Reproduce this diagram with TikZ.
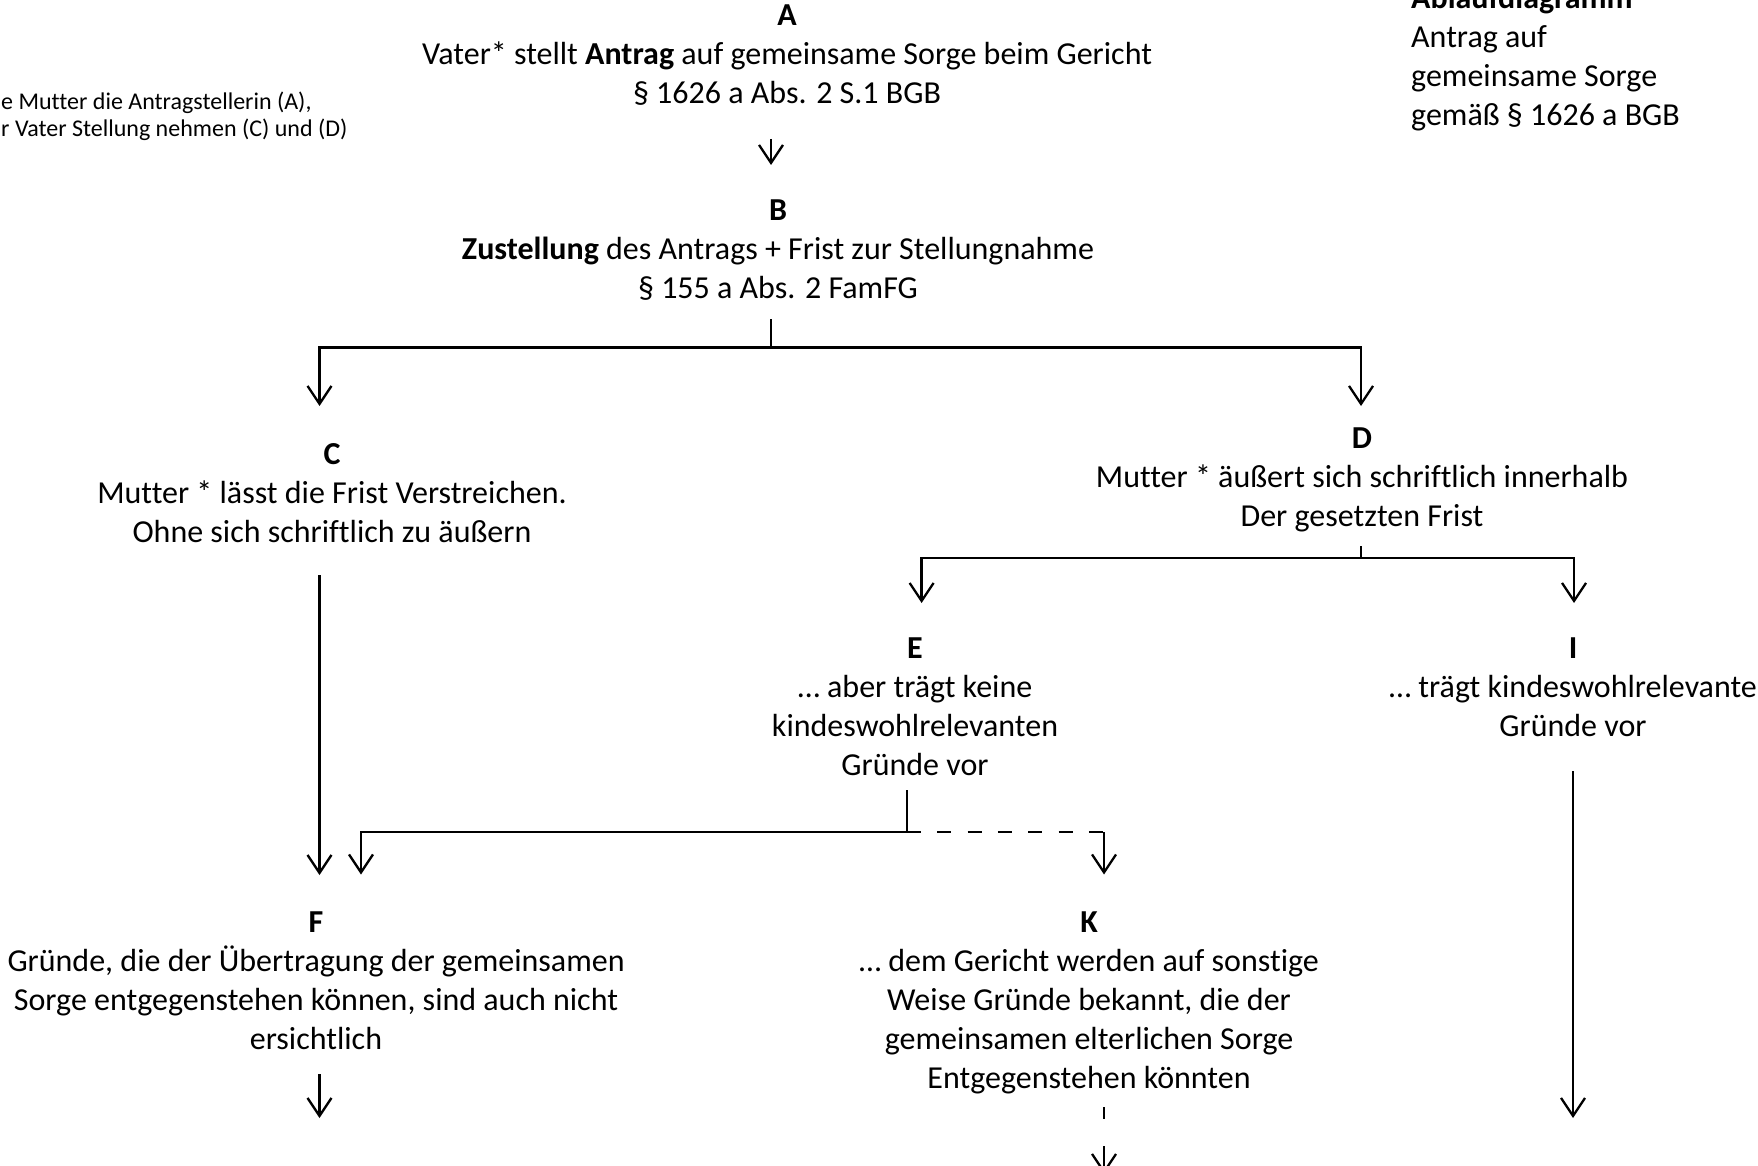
\documentclass[tikz,border=0pt]{standalone}
\usepackage{fontspec}
\setmainfont{Carlito}[Ligatures={TeX,NoCommon}]
\usetikzlibrary{arrows.meta}
\begin{document}
\begin{tikzpicture}[x=1pt,y=-1pt,
  blk/.style={align=center, inner sep=0pt, anchor=north, font=\fontsize{32}{39}\selectfont},
  lft/.style={align=left, inner sep=0pt, anchor=north west, font=\fontsize{32}{39}\selectfont},
  sml/.style={align=left, inner sep=0pt, anchor=north west, font=\fontsize{24}{27}\selectfont},
  conn/.style={line width=2.3pt, line join=miter},
  stem/.style={line width=1.4pt},
  arr/.style={conn, -{Straight Barb[length=18pt,width=24pt,line width=2.3pt]}},
  dsh/.style={conn, dash pattern=on 14pt off 16.3pt},
]
\useasboundingbox (0,0) rectangle (1758,1166);
\fill[white] (0,0) rectangle (1758,1166);

% text blocks
\node[sml] (TL) at (1,90.1) {\strut e Mutter die Antragstellerin (A),\\r Vater Stellung nehmen (C) und (D)};
\node[lft] (TR) at (1411,-19.3) {\strut\textbf{Ablaufdiagramm}\\Antrag auf\\gemeinsame Sorge\\gemäß § 1626 a BGB};

\node[blk] (A) at (787,-2.3) {\strut\textbf{A}\\Vater* stellt \textbf{Antrag} auf gemeinsame Sorge beim Gericht\\§ 1626 a Abs. 2 S.1 BGB};
\node[blk] (B) at (778,192.7) {\strut\textbf{B}\\\textbf{Zustellung} des Antrags + Frist zur Stellungnahme\\§ 155 a Abs. 2 FamFG};
\node[blk] (C) at (332,436.7) {\strut\textbf{C}\\Mutter * lässt die Frist Verstreichen.\\Ohne sich schriftlich zu äußern};
\node[blk] (D) at (1362,421.2) {\strut\textbf{D}\\Mutter * äußert sich schriftlich innerhalb\\Der gesetzten Frist};
\node[blk] (E) at (915,630.7) {\strut\textbf{E}\\… aber trägt keine\\kindeswohlrelevanten\\Gründe vor};
\node[blk] (I) at (1573,630.7) {\strut\textbf{I}\\… trägt kindeswohlrelevante\\Gründe vor};
\node[blk] (F) at (316,904.7) {\strut\textbf{F}\\Gründe, die der Übertragung der gemeinsamen\\Sorge entgegenstehen können, sind auch nicht\\ersichtlich};
\node[blk] (K) at (1089,904.7) {\strut\textbf{K}\\… dem Gericht werden auf sonstige\\Weise Gründe bekannt, die der\\gemeinsamen elterlichen Sorge\\Entgegenstehen könnten};

% connector points
\coordinate (a1) at (771,139);
\coordinate (a2) at (771,165);
\coordinate (b0) at (771,319);
\coordinate (b1) at (771,347.6);
\coordinate (c0) at (319.5,406);
\coordinate (d0) at (1361,406);
\coordinate (c1) at (319.5,575);
\coordinate (c2) at (319.5,875);
\coordinate (d1) at (1361,546);
\coordinate (d2) at (1361,558);
\coordinate (e0) at (921.6,603);
\coordinate (i0) at (1574,603);
\coordinate (e1) at (907,790);
\coordinate (e2) at (907,832);
\coordinate (k0) at (1104,832);
\coordinate (k1) at (1104,874.5);
\coordinate (f0) at (361,874.5);
\coordinate (i1) at (1573,771);
\coordinate (i2) at (1573,1118);
\coordinate (f1) at (319.5,1074);
\coordinate (f2) at (319.5,1118);
\coordinate (k2) at (1104,1107);
\coordinate (k3) at (1104,1119);
\coordinate (k4) at (1104,1146);
\coordinate (k5) at (1104,1174);

% connectors
\draw[arr] (a1) -- (a2);
\draw[stem] (b0) -- (b1);
\draw[arr] (b1) -| (c0);
\draw[arr] (b1) -| (d0);
\draw[arr] (c1) -- (c2);
\draw[stem] (d1) -- (d2);
\draw[arr] (d2) -| (e0);
\draw[arr] (d2) -| (i0);
\draw[stem] (e1) -- (e2);
\draw[arr] (e2) -| (f0);
\draw[dsh] (e2) -- (k0);
\draw[arr] (k0) -- (k1);
\draw[arr] (i1) -- (i2);
\draw[arr] (f1) -- (f2);
\draw[stem] (k2) -- (k3);
\draw[arr] (k4) -- (k5);
\end{tikzpicture}
\end{document}
